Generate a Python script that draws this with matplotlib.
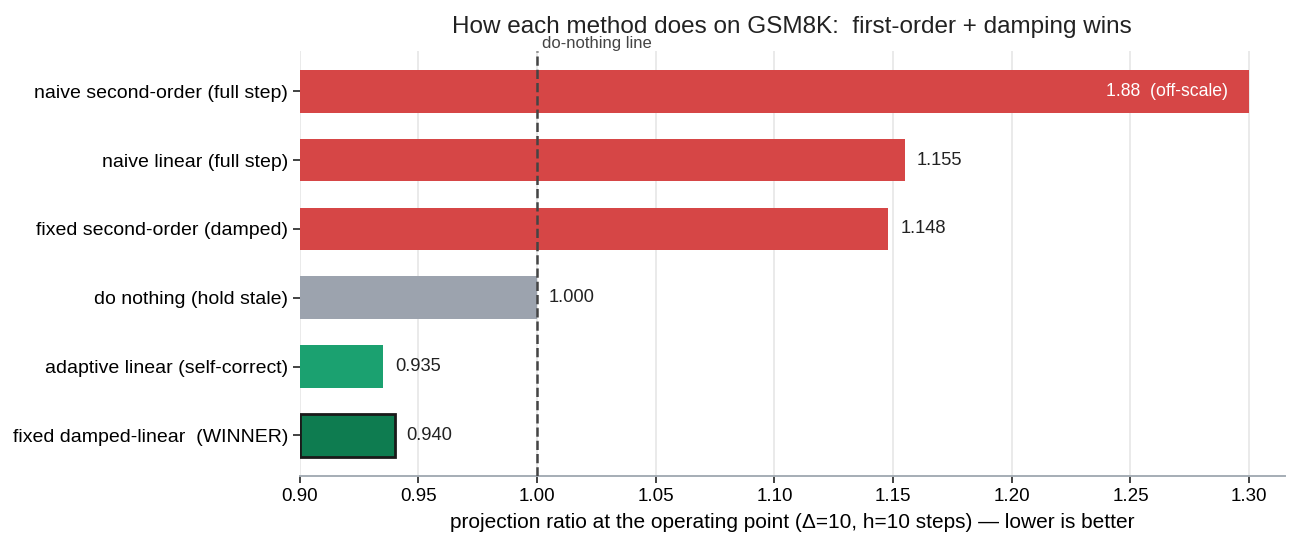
import matplotlib.pyplot as plt

plt.rcParams['font.family'] = ['Liberation Sans', 'DejaVu Sans']

methods = ['naive second-order (full step)', 'naive linear (full step)',
           'fixed second-order (damped)', 'do nothing (hold stale)',
           'adaptive linear (self-correct)', 'fixed damped-linear  (WINNER)']
ratios = [1.88, 1.155, 1.148, 1.000, 0.935, 0.940]
colors = ['#d64646', '#d64646', '#d64646', '#9ca3ae', '#1ba170', '#0e7c50']
CAP = 1.30

fig = plt.figure(figsize=(13.15, 5.51), dpi=100)
ax = fig.add_axes([0.228, 0.136, 0.749, 0.772])

ys = list(range(len(methods)))
shown = [min(r, CAP) for r in ratios]
bars = ax.barh(ys, [s - 0.9 for s in shown], left=0.9, height=0.62,
               color=colors, zorder=2)
bars[-1].set_edgecolor('#1a1a1a')
bars[-1].set_linewidth(2.0)

for y, r, s in zip(ys, ratios, shown):
    if r > CAP:
        ax.text(s - 0.009, y, '{:.2f}  (off-scale)'.format(r), va='center',
                ha='right', color='white', fontsize=12.7)
    else:
        ax.text(s + 0.005, y, '{:.3f}'.format(r), va='center', ha='left',
                color='#222222', fontsize=13.2)

ax.axvline(1.0, color='#444444', ls='--', lw=1.8, zorder=3)
ax.text(1.002, 1.0, 'do-nothing line', transform=ax.get_xaxis_transform(),
        fontsize=12, color='#444444', va='bottom', ha='left')

ax.set_yticks(ys)
ax.set_yticklabels(methods, fontsize=14)
ax.invert_yaxis()
ax.set_xlim(0.9, 1.315)
ax.set_xticks([0.90, 0.95, 1.00, 1.05, 1.10, 1.15, 1.20, 1.25, 1.30])
ax.set_xticklabels(['{:.2f}'.format(t) for t in ax.get_xticks()])
ax.tick_params(axis='x', labelsize=13.5, color='#333333', length=5, width=1.3)
ax.tick_params(axis='y', color='#333333', length=5, width=1.3)
ax.grid(True, axis='x', color='#e8e8e8', lw=1.3, zorder=0)
ax.set_axisbelow(True)
for s in ['top', 'right', 'left']:
    ax.spines[s].set_visible(False)
ax.spines['bottom'].set_color('#a5adb5')
ax.spines['bottom'].set_linewidth(1.4)

ax.set_xlabel('projection ratio at the operating point (\u0394=10, h=10 steps) \u2014 lower is better',
              fontsize=15, labelpad=6)
ax.set_title('How each method does on GSM8K:  first-order + damping wins',
             fontsize=17.5, color='#222222', pad=13)

fig.savefig('out.png')
